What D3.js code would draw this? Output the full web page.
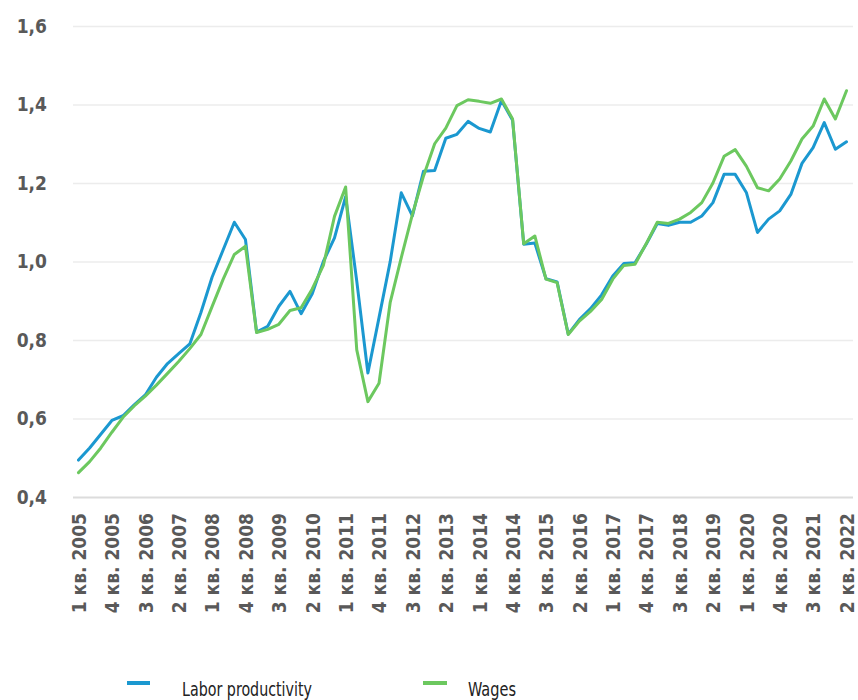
<!DOCTYPE html>
<html>
<head>
<meta charset="utf-8">
<script src="https://cdn.jsdelivr.net/npm/d3@7"></script>
<style>
  html, body { margin: 0; padding: 0; background: #ffffff; }
  svg { display: block; }
  .axis-label { font-family: "DejaVu Sans Condensed", "DejaVu Sans", sans-serif; font-weight: bold; fill: #595959; }
  .legend-text { font-family: "DejaVu Sans Condensed", "DejaVu Sans", sans-serif; fill: #222222; }
</style>
</head>
<body>
<svg id="chart" width="858" height="700"></svg>
<script>
// Quarters, 1 кв. 2005 … 2 кв. 2022
const quarters = [
  "1 кв. 2005","2 кв. 2005","3 кв. 2005","4 кв. 2005",
  "1 кв. 2006","2 кв. 2006","3 кв. 2006","4 кв. 2006",
  "1 кв. 2007","2 кв. 2007","3 кв. 2007","4 кв. 2007",
  "1 кв. 2008","2 кв. 2008","3 кв. 2008","4 кв. 2008",
  "1 кв. 2009","2 кв. 2009","3 кв. 2009","4 кв. 2009",
  "1 кв. 2010","2 кв. 2010","3 кв. 2010","4 кв. 2010",
  "1 кв. 2011","2 кв. 2011","3 кв. 2011","4 кв. 2011",
  "1 кв. 2012","2 кв. 2012","3 кв. 2012","4 кв. 2012",
  "1 кв. 2013","2 кв. 2013","3 кв. 2013","4 кв. 2013",
  "1 кв. 2014","2 кв. 2014","3 кв. 2014","4 кв. 2014",
  "1 кв. 2015","2 кв. 2015","3 кв. 2015","4 кв. 2015",
  "1 кв. 2016","2 кв. 2016","3 кв. 2016","4 кв. 2016",
  "1 кв. 2017","2 кв. 2017","3 кв. 2017","4 кв. 2017",
  "1 кв. 2018","2 кв. 2018","3 кв. 2018","4 кв. 2018",
  "1 кв. 2019","2 кв. 2019","3 кв. 2019","4 кв. 2019",
  "1 кв. 2020","2 кв. 2020","3 кв. 2020","4 кв. 2020",
  "1 кв. 2021","2 кв. 2021","3 кв. 2021","4 кв. 2021",
  "1 кв. 2022","2 кв. 2022"
];

// Labelled quarters on the horizontal axis
const tickLabels = [
  "1 кв. 2005","4 кв. 2005","3 кв. 2006","2 кв. 2007","1 кв. 2008","4 кв. 2008",
  "3 кв. 2009","2 кв. 2010","1 кв. 2011","4 кв. 2011","3 кв. 2012","2 кв. 2013",
  "1 кв. 2014","4 кв. 2014","3 кв. 2015","2 кв. 2016","1 кв. 2017","4 кв. 2017",
  "3 кв. 2018","2 кв. 2019","1 кв. 2020","4 кв. 2020","3 кв. 2021","2 кв. 2022"
];

const yTicks = [0.4, 0.6, 0.8, 1.0, 1.2, 1.4, 1.6];

const productivity = [
  0.494, 0.525, 0.560, 0.595, 0.607, 0.635, 0.660, 0.705, 0.740, 0.765,
  0.790, 0.870, 0.960, 1.030, 1.100, 1.056, 0.820, 0.835, 0.886, 0.924,
  0.867, 0.918, 1.000, 1.060, 1.165, 0.950, 0.716, 0.857, 0.999, 1.175,
  1.116, 1.230, 1.232, 1.314, 1.324, 1.357, 1.339, 1.330, 1.410, 1.360,
  1.044, 1.047, 0.956, 0.948, 0.815, 0.852, 0.880, 0.915, 0.963, 0.995,
  0.997, 1.044, 1.097, 1.092, 1.100, 1.100, 1.116, 1.150, 1.222, 1.222,
  1.176, 1.074, 1.108, 1.129, 1.171, 1.250, 1.290, 1.354, 1.286, 1.305
];

const wages = [
  0.462, 0.490, 0.525, 0.565, 0.603, 0.632, 0.657, 0.685, 0.715, 0.745,
  0.778, 0.814, 0.885, 0.955, 1.018, 1.039, 0.819, 0.827, 0.840, 0.875,
  0.882, 0.930, 0.990, 1.115, 1.190, 0.775, 0.643, 0.690, 0.895, 1.010,
  1.120, 1.218, 1.300, 1.340, 1.397, 1.412, 1.408, 1.403, 1.414, 1.363,
  1.045, 1.065, 0.955, 0.946, 0.814, 0.848, 0.873, 0.903, 0.955, 0.990,
  0.993, 1.045, 1.100, 1.097, 1.108, 1.125, 1.150, 1.200, 1.268, 1.285,
  1.243, 1.188, 1.180, 1.210, 1.256, 1.312, 1.345, 1.414, 1.363, 1.435
];

const seriesNames = ["Labor productivity", "Wages"];
const seriesColors = ["#1b98d0", "#6cc85f"];

const svg = d3.select("#chart");

const plotLeft = 73, plotRight = 853;
const x = d3.scaleLinear().domain([0, quarters.length - 1]).range([78.5, 846.5]);
const y = d3.scaleLinear().domain([0.4, 1.6]).range([497, 26]);

const ruFormat = d3.formatLocale({ decimal: ",", thousands: " ", grouping: [3], currency: ["", ""] }).format(".1f");

// Horizontal grid with value labels
const yAxis = d3.axisLeft(y)
  .tickValues(yTicks)
  .tickSize(-(plotRight - plotLeft))
  .tickPadding(26)
  .tickFormat(ruFormat);

const gy = svg.append("g")
  .attr("transform", `translate(${plotLeft},0)`)
  .call(yAxis);
gy.select(".domain").remove();
gy.selectAll(".tick line")
  .attr("stroke", d => d === 0.4 ? "#dcdcdc" : "#ececec")
  .attr("stroke-width", d => d === 0.4 ? 2 : 1.5);
gy.selectAll(".tick text")
  .attr("class", "axis-label")
  .style("font-size", "19px");

// Quarter labels, rotated
const tickIdx = tickLabels.map(l => quarters.indexOf(l));
const xAxis = d3.axisBottom(x)
  .tickValues(tickIdx)
  .tickSize(0)
  .tickFormat(i => quarters[i]);

const gx = svg.append("g")
  .attr("transform", `translate(0,${y(0.4)})`)
  .call(xAxis);
gx.select(".domain").remove();
gx.selectAll(".tick text")
  .attr("class", "axis-label")
  .style("font-size", "19px")
  .attr("text-anchor", "end")
  .attr("transform", "rotate(-90)")
  .attr("x", -16)
  .attr("y", 0)
  .attr("dy", "0.36em");

// Lines
const line = d3.line()
  .x((d, i) => x(i))
  .y(d => y(d));

[productivity, wages].forEach((values, k) => {
  svg.append("path")
    .datum(values)
    .attr("fill", "none")
    .attr("stroke", seriesColors[k])
    .attr("stroke-width", 3)
    .attr("stroke-linejoin", "round")
    .attr("stroke-linecap", "round")
    .attr("d", line);
});

// Legend
const legendItems = [
  { x0: 127, x1: 150, tx: 182, w: 130 },
  { x0: 423, x1: 447, tx: 468, w: 48 }
];
legendItems.forEach((it, k) => {
  svg.append("line")
    .attr("x1", it.x0).attr("x2", it.x1)
    .attr("y1", 683).attr("y2", 683)
    .attr("stroke", seriesColors[k])
    .attr("stroke-width", 4);
  svg.append("text")
    .attr("class", "legend-text")
    .attr("x", it.tx)
    .attr("y", 696)
    .attr("textLength", it.w)
    .attr("lengthAdjust", "spacingAndGlyphs")
    .style("font-size", "20px")
    .text(seriesNames[k]);
});
</script>
</body>
</html>
